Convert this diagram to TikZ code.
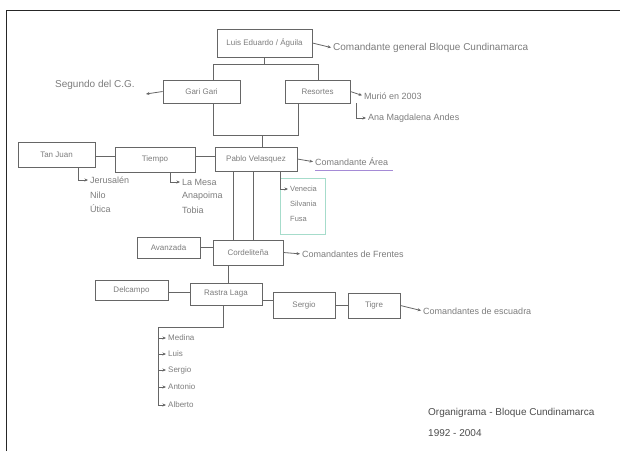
\documentclass[tikz,border=0pt]{standalone}
\usepackage{fontspec}
\setmainfont{Liberation Sans}
\usetikzlibrary{arrows.meta}
\definecolor{pencil}{HTML}{666666}
\definecolor{lead}{HTML}{7C7C7C}
\definecolor{tealbox}{HTML}{A6DCCB}
\definecolor{violetline}{HTML}{A58BD6}
\begin{document}
\begin{tikzpicture}[x=1pt,y=-1pt,
  box/.style={draw=pencil, line width=0.8pt, inner sep=1pt, text=lead,
    font=\fontsize{8}{9}\selectfont},
  note/.style={text=lead, inner sep=0pt, anchor=west, font=\fontsize{9}{10}\selectfont},
  bignote/.style={text=lead, inner sep=0pt, anchor=west, font=\fontsize{10}{11}\selectfont},
  wire/.style={draw=pencil, line width=0.8pt},
  arr/.style={wire, -{Stealth[length=3.5pt,width=3pt]}},
  toText/.style={arr, shorten >=2pt}
]
\useasboundingbox (0,0) rectangle (620,451);
% sheet edge
\draw[black!85, line width=1pt] (6,451) -- (6,10) -- (620,10);

% ---- top: general command ----
\node[box, minimum width=95, minimum height=28] (luis) at (264.5,43) {Luis Eduardo / Águila};
\node[bignote] (cg) at (333,48) {Comandante general Bloque Cundinamarca};
\draw[toText] (luis.east) -- (cg.west);

\node[box, minimum width=77, minimum height=23] (gari) at (201.5,91.5) {Gari Gari};
\node[box, minimum width=65, minimum height=23] (resortes) at (317.5,91.5) {Resortes};
\node[bignote] (segundo) at (55,85) {Segundo del C.G.};
\coordinate (segtip) at (146,94);
\draw[arr] (gari.west) -- (segtip);

\node[note] (murio) at (364,96) {Murió en 2003};
\node[note] (ana) at (368,118) {Ana Magdalena Andes};
\draw[toText] (resortes.east) -- (murio.west);
\draw[toText] (resortes.south east) ++(6,0) |- (ana.west);

% bracket joining the two seconds
\coordinate (tl) at (213,64);
\coordinate (tr) at (318,64);
\coordinate (bl) at (213,135);
\coordinate (br) at (298,135);
\coordinate (mid) at (262,135);
\draw[wire] (luis.south) -- (luis.south |- tl);
\draw[wire] (tl) -- (tr);
\draw[wire] (tl) -- (tl |- gari.north);
\draw[wire] (tr) -- (tr |- resortes.north);
\draw[wire] (gari.south -| bl) -- (bl) -- (br) -- (resortes.south -| br);

% ---- area commanders ----
\node[box, minimum width=77, minimum height=25] (tanjuan) at (56.5,154.5) {Tan Juan};
\node[box, minimum width=80, minimum height=25] (tiempo) at (155,159.5) {Tiempo};
\node[box, minimum width=82, minimum height=24] (pablo) at (256,159) {Pablo Velasquez};
\draw[wire] (mid) -- (mid |- pablo.north);
\draw[wire] (tanjuan.east |- 0,156) -- (tiempo.west |- 0,156);
\draw[wire] (tiempo.east |- 0,156) -- (pablo.west |- 0,156);

\node[note] (area) at (315,162) {Comandante Área};
\draw[toText] (pablo.east) -- (area.west);
\draw[violetline, line width=0.8pt] (area.south west) ++(0,4) -- ++(78,0);

\node[note] (jerus) at (90,180) {Jerusalén};
\node[note] (nilo) at (90,195) {Nilo};
\node[note] (utica) at (90,209) {Útica};
\draw[toText] (tanjuan.south) ++(22,0) |- (jerus.west);

\node[note] (lamesa) at (182,182) {La Mesa};
\node[note] (anapo) at (182,196) {Anapoima};
\node[note] (tobia) at (182,210) {Tobia};
\draw[toText] (tiempo.south) ++(15,0) |- (lamesa.west);

\node[draw=tealbox, line width=0.8pt, minimum width=45, minimum height=56] (green) at (302.5,206) {};
\node[note, font=\fontsize{7.5}{8}\selectfont] (venecia) at (290,189) {Venecia};
\node[note, font=\fontsize{7.5}{8}\selectfont] (silvania) at (290,204) {Silvania};
\node[note, font=\fontsize{7.5}{8}\selectfont] (fusa) at (290,219) {Fusa};
\draw[toText] (pablo.south) ++(24,0) |- (venecia.west);

% ---- front commanders ----
\node[box, minimum width=63, minimum height=21] (avanzada) at (168.5,247.5) {Avanzada};
\node[box, minimum width=70, minimum height=25] (cordel) at (248,252.5) {Cordeliteña};
\draw[wire] (pablo.south -| 233,0) -- (cordel.north -| 233,0);
\draw[wire] (pablo.south -| 253,0) -- (cordel.north -| 253,0);
\draw[wire] (avanzada.east) -- (cordel.west |- avanzada.east);
\node[note] (frentes) at (302,254) {Comandantes de Frentes};
\draw[toText] (cordel.east) -- (frentes.west);

% ---- squad commanders ----
\node[box, minimum width=73, minimum height=20] (delcampo) at (131.5,290) {Delcampo};
\node[box, minimum width=72, minimum height=22] (rastra) at (226,294) {Rastra Laga};
\node[box, minimum width=62, minimum height=26] (sergio) at (304,305) {Sergio};
\node[box, minimum width=52, minimum height=25] (tigre) at (374,305.5) {Tigre};
\draw[wire] (cordel.south -| 228,0) -- (rastra.north -| 228,0);
\draw[wire] (delcampo.east |- 0,292) -- (rastra.west |- 0,292);
\draw[wire] (rastra.east |- 0,300) -- (sergio.west |- 0,300);
\draw[wire] (sergio.east |- 0,305) -- (tigre.west |- 0,305);
\node[note] (escuadra) at (423,311) {Comandantes de escuadra};
\draw[toText] (tigre.east) -- (escuadra.west);

% ---- members below Rastra Laga ----
\node[note, font=\fontsize{8}{9}\selectfont] (medina) at (168,338) {Medina};
\node[note, font=\fontsize{8}{9}\selectfont] (luisb) at (168,354) {Luis};
\node[note, font=\fontsize{8}{9}\selectfont] (sergiob) at (168,370) {Sergio};
\node[note, font=\fontsize{8}{9}\selectfont] (antonio) at (168,387) {Antonio};
\node[note, font=\fontsize{8}{9}\selectfont] (alberto) at (168,405) {Alberto};
\coordinate (rk) at (223,327);
\coordinate (lk) at (158,327);
\draw[wire] (rastra.south -| rk) -- (rk) -- (lk) -- (lk |- alberto.west);
\foreach \m in {medina,luisb,sergiob,antonio,alberto}
  \draw[toText] (lk |- \m.west) -- (\m.west);

% ---- caption ----
\node[text=black!70, anchor=west, inner sep=0pt, font=\fontsize{10}{11}\selectfont] (title) at (428,413) {Organigrama - Bloque Cundinamarca};
\node[text=black!70, anchor=west, inner sep=0pt, font=\fontsize{10}{11}\selectfont] (years) at (428,433) {1992 - 2004};
\end{tikzpicture}
\end{document}
